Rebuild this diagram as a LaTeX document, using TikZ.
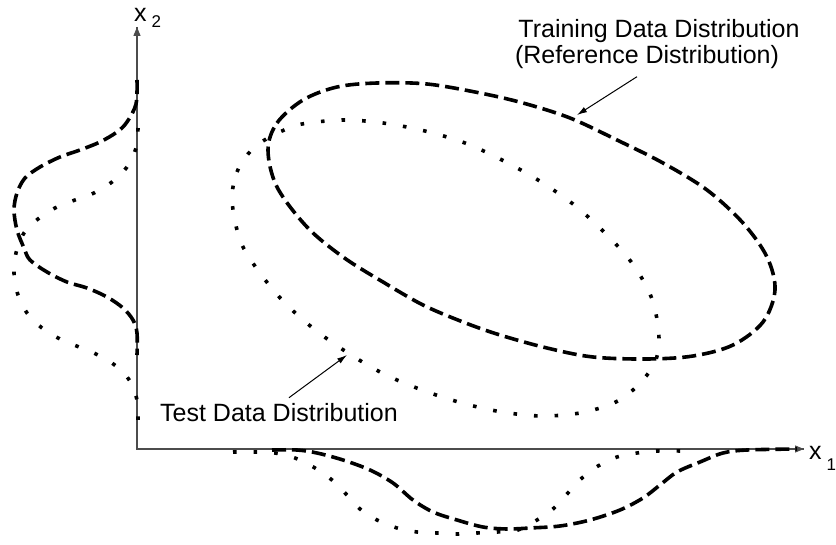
\documentclass[tikz,border=0pt]{standalone}
\usepackage{fontspec}
\setmainfont{Liberation Sans}
\usetikzlibrary{arrows.meta,calc}
\begin{document}
\begin{tikzpicture}[x=1pt,y=-1pt,
  axisline/.style={line width=1.3pt,draw=black!70},
  axistip/.style={-{Triangle[length=9pt,width=7pt]},line width=1.3pt,black!70},
  trainline/.style={line width=3.6pt,dash pattern=on 14pt off 6pt},
  testline/.style={line width=3.6pt,dash pattern=on 3.6pt off 17pt},
  lbl/.style={inner sep=0pt,font=\fontsize{25}{27}\selectfont},
  pointer/.style={line width=1pt,-{Latex[length=10pt,width=6pt]}}
]
\useasboundingbox (0,0) rectangle (836,545);
% axes
\coordinate (origin) at (137,449);
\coordinate (ytip) at (137,27);
\coordinate (xtip) at (804,449);
\draw[axisline] (ytip) -- (origin) -- (xtip);
\draw[axistip] ($(ytip)+(0,13)$) -- (ytip);
\draw[axistip] ($(xtip)+(-14,0)$) -- (xtip);
\node[lbl,anchor=base west] (x2lbl) at (134,22) {x\hspace{5pt}\raisebox{-6pt}{\fontsize{17}{17}\selectfont 2}};
\node[lbl,anchor=base west] (x1lbl) at (809,460) {x\hspace{5pt}\raisebox{-10pt}{\fontsize{17}{17}\selectfont 1}};

% training ellipse (dashed)
\draw[trainline] plot[smooth cycle,tension=0.55] coordinates {
(268,150) (277,123) (303,100) (337,87) (377,83) (427,84) (480,93) (523,103)
(570,118) (617,140) (663,163) (707,190) (743,223) (767,257) (775,290)
(763,322) (733,345) (693,356) (647,359) (593,357) (547,348) (500,335)
(463,322) (423,305) (383,282) (343,257) (307,227) (277,187)};

% test ellipse (dotted)
\draw[testline] plot[smooth cycle,tension=0.55] coordinates {
(232,200) (237,172) (248,154) (263,141) (282,131) (302,124) (343,120) (383,123)
(425,131) (465,143) (502,160) (538,180) (573,204) (604,232) (632,263)
(652,299) (659,339) (652,368) (623,398) (585,412) (543,416) (502,412)
(462,403) (422,390) (384,374) (348,353) (314,329) (283,301) (257,269) (240,240)};

% marginal on x2 (left)
\draw[trainline] plot[smooth,tension=0.55] coordinates {
(137,80) (136,104) (127,122) (117,132) (100,142) (80,150) (60,157) (40,167)
(25,178) (17,193) (14,210) (17,230) (24,248) (30,260) (47,272) (67,282) (87,288)
(107,297) (123,308) (133,320) (137,333) (137,355)};
\draw[testline] plot[smooth,tension=0.55] coordinates {
(138,128) (136,148) (127,167) (112,182) (94,193) (75,200) (55,208) (38,219)
(24,233) (16,253) (14,273) (18,295) (27,313) (42,328) (60,339) (79,347)
(98,355) (116,366) (130,381) (137,400) (138,422)};

% marginal on x1 (bottom)
\draw[trainline] plot[smooth,tension=0.55] coordinates {
(272,450) (297,450) (317,453) (343,460) (370,470) (393,483) (413,500)
(433,512) (457,520) (483,527) (507,529) (530,528) (560,526) (590,520)
(620,510) (643,498) (660,485) (677,472) (700,462) (723,453) (747,450) (797,449)};
\draw[testline] plot[smooth,tension=0.55] coordinates {
(233,452) (255,452) (275,453) (295,458) (315,468) (332,480) (346,494)
(360,509) (377,520) (397,528) (417,532) (437,533) (457,534) (477,533)
(497,532) (518,530) (537,520) (553,509) (567,494) (582,478) (598,466)
(617,457) (637,453) (657,451) (682,451)};

% labels
\node[lbl,align=center,anchor=north,font=\fontsize{25}{26}\selectfont] (trainlbl) at (653,19)
  {\hspace*{12pt}Training Data Distribution\\(Reference Distribution)\hspace*{12pt}};
\coordinate (traintip) at (577,115);
\draw[pointer] ($(trainlbl.south)+(-16,8)$) -- (traintip);

\node[lbl,anchor=base west] (testlbl) at (160,422) {Test Data Distribution};
\coordinate (testtip) at (347,355);
\draw[pointer] ($(testlbl.north)+(10,-6)$) -- (testtip);
\end{tikzpicture}
\end{document}
